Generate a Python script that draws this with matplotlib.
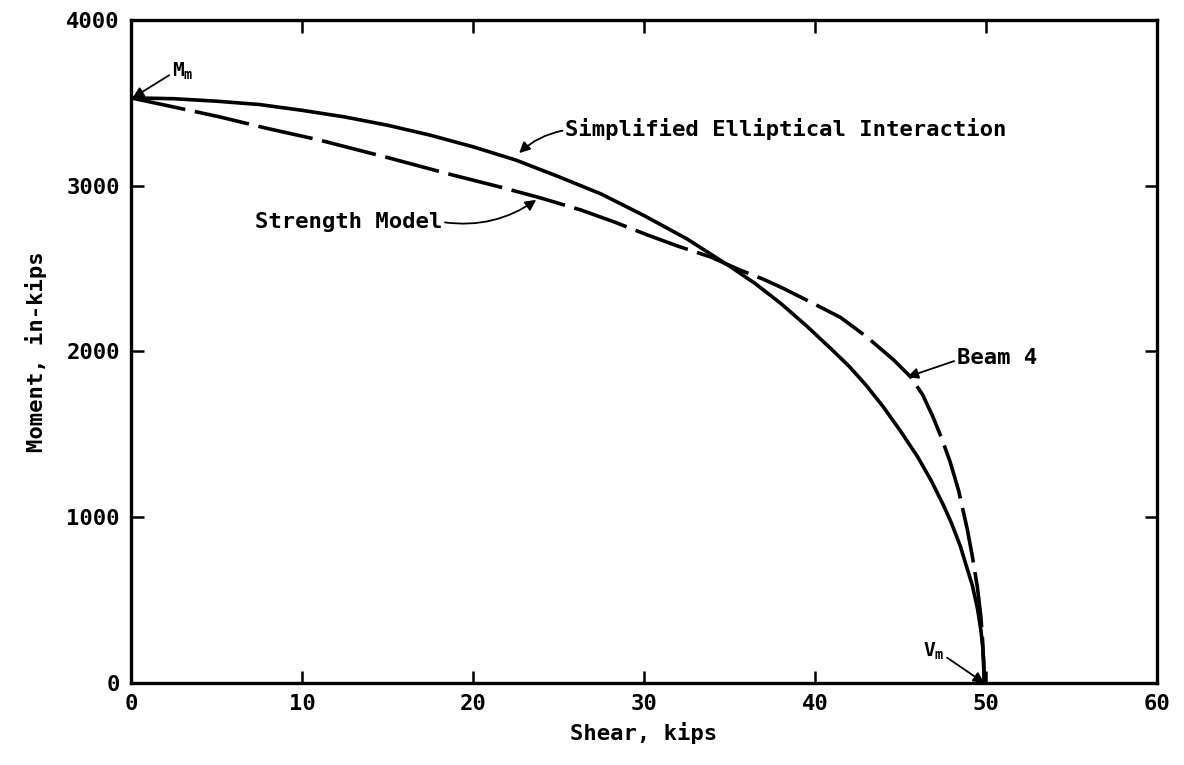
import numpy as np
import matplotlib
matplotlib.use("Agg")
import matplotlib.pyplot as plt

# shear (kips) / moment (in-kips) for the simplified elliptical interaction
ellip_v = [0, 2.5, 5, 7.5, 10, 12.5, 15, 17.5, 20, 22.5, 25, 27.5, 30, 32.5, 35,
           36.5, 38, 39.5, 41, 42, 43, 44, 45, 46, 46.8, 47.5, 48, 48.5, 48.9,
           49.2, 49.5, 49.7, 49.8, 49.87, 49.9]
ellip_m = [3530, 3525, 3510, 3490, 3455, 3415, 3365, 3305, 3235, 3155, 3055, 2950,
           2820, 2680, 2515, 2410, 2290, 2155, 2010, 1910, 1795, 1665, 1520, 1365,
           1220, 1075, 960, 825, 690, 590, 450, 320, 225, 130, 0]

# strength model for beam 4
beam_v = [0, 2.5, 5.2, 8, 11, 15, 18.8, 21.6, 24, 26.3, 28.3, 30.2, 32, 33.9, 35.6,
          37, 38.1, 39.8, 41.5, 43, 44.6, 45.6, 46.3, 46.9, 47.4, 47.9, 48.4, 48.9,
          49.2, 49.5, 49.7, 49.8, 49.9]
beam_m = [3530, 3475, 3415, 3345, 3276, 3170, 3065, 2992, 2925, 2854, 2780, 2703,
          2635, 2570, 2492, 2435, 2383, 2295, 2205, 2090, 1949, 1846, 1738, 1605,
          1478, 1335, 1160, 930, 765, 575, 400, 255, 0]

x_ticks = [0, 10, 20, 30, 40, 50, 60]
y_ticks = [0, 1000, 2000, 3000, 4000]

plt.rcParams["font.family"] = "DejaVu Sans Mono"
plt.rcParams["font.weight"] = "bold"
plt.rcParams["axes.labelweight"] = "bold"
plt.rcParams["mathtext.fontset"] = "custom"
plt.rcParams["mathtext.rm"] = "DejaVu Sans Mono:bold"
plt.rcParams["lines.scale_dashes"] = False

fig = plt.figure(figsize=(11.84, 7.65), dpi=100)
ax = fig.add_axes([0.1106, 0.1072, 0.8666, 0.8667])

ax.plot(ellip_v, ellip_m, color="black", lw=2.6, solid_capstyle="butt",
        solid_joinstyle="round")
ax.plot(beam_v, beam_m, color="black", lw=2.6, dashes=(40, 7), dash_capstyle="butt",
        dash_joinstyle="round")

ax.set_xlim(0, 60)
ax.set_ylim(0, 4000)
ax.set_xticks(x_ticks)
ax.set_yticks(y_ticks)
ax.tick_params(direction="in", length=9, width=1.8, top=True, right=True,
               labelsize=16, pad=8)
for s in ax.spines.values():
    s.set_linewidth(2.4)

ax.set_xlabel("Shear, kips", fontsize=16, labelpad=6)
ax.set_ylabel("Moment, in-kips", fontsize=16, labelpad=14)

arrow = dict(arrowstyle="-|>", color="black", lw=1.3, mutation_scale=16,
             shrinkA=0, shrinkB=0)

ax.annotate("Simplified Elliptical Interaction", xy=(22.7, 3197), xytext=(25.4, 3342),
            fontsize=16, ha="left", va="center",
            arrowprops=dict(arrow, relpos=(0, 0.45), connectionstyle="arc3,rad=0.15"))
ax.annotate("Strength Model", xy=(23.7, 2915), xytext=(7.25, 2781),
            fontsize=16, ha="left", va="center",
            arrowprops=dict(arrow, relpos=(1, 0.5), connectionstyle="arc3,rad=0.2"))
ax.annotate("Beam 4", xy=(45.4, 1846), xytext=(48.3, 1960),
            fontsize=16, ha="left", va="center",
            arrowprops=dict(arrow, relpos=(0, 0.4)))
ax.annotate("M$_\\mathrm{m}$", xy=(0.1, 3530), xytext=(2.4, 3690),
            fontsize=14, ha="left", va="center",
            arrowprops=dict(arrow, relpos=(0, 0.4)))
ax.annotate("V$_\\mathrm{m}$", xy=(49.9, 0), xytext=(46.3, 190),
            fontsize=14, ha="left", va="center",
            arrowprops=dict(arrow, relpos=(1, 0.3)))

fig.savefig("out.png", dpi=100)
